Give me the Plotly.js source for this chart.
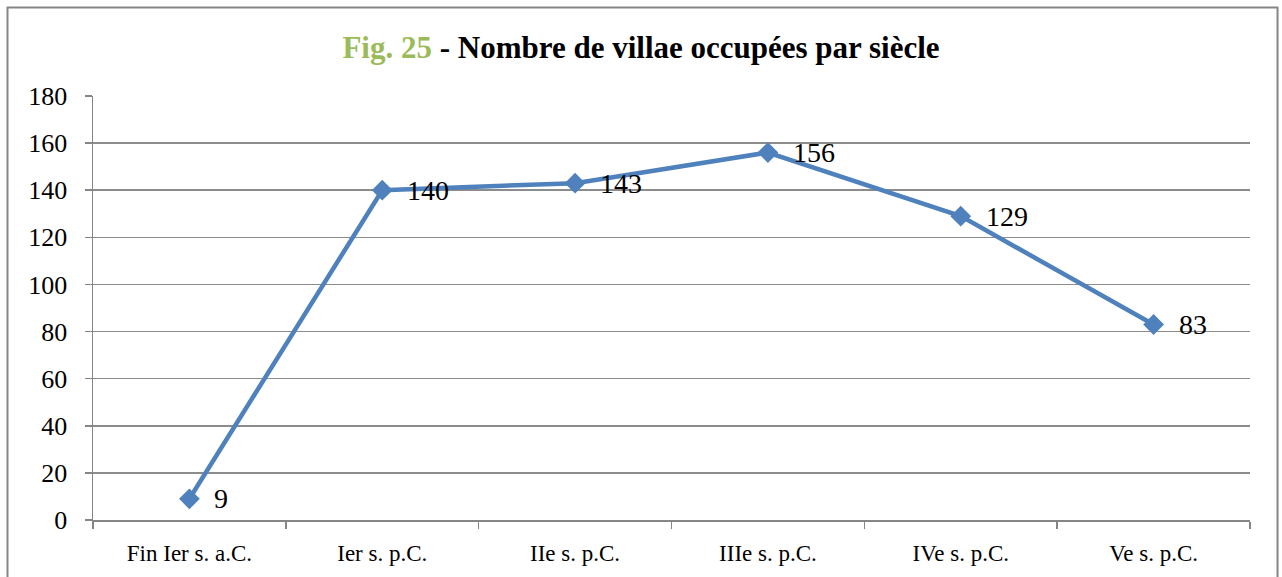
<!DOCTYPE html>
<html><head><meta charset="utf-8">
<script src="https://cdn.plot.ly/plotly-3.0.1.min.js"></script>
<style>body{margin:0;background:#fff}#c{width:1282px;height:577px}</style>
</head><body><div id="c"></div>
<script>
const categories = ["Fin Ier s. a.C.", "Ier s. p.C.", "IIe s. p.C.", "IIIe s. p.C.", "IVe s. p.C.", "Ve s. p.C."];
const villae = [9, 140, 143, 156, 129, 83];
const yTicks = [0, 20, 40, 60, 80, 100, 120, 140, 160, 180];

const FONT = "Liberation Serif, Times New Roman, serif";
const trace = {
  x: categories, y: villae, type: "scatter", mode: "lines+markers",
  line: {color: "#4F81BD", width: 4.5},
  marker: {symbol: "diamond", size: 16, color: "#4F81BD"},
  cliponaxis: false, hoverinfo: "none"
};
const labels = categories.map((c, i) => ({
  x: c, y: villae[i], xref: "x", yref: "y", text: String(villae[i]),
  showarrow: false, xanchor: "left", yanchor: "middle", xshift: 23, yshift: 0,
  font: {family: FONT, size: 28, color: "#000"}
}));
const layout = {
  width: 1282, height: 577,
  margin: {l: 93, r: 32, t: 96, b: 57},
  paper_bgcolor: "#fff", plot_bgcolor: "#fff",
  showlegend: false,
  title: {text: '<span style="color:#9BBB59">Fig. 25</span> - Nombre de villae occupées par siècle',
          font: {family: FONT, size: 31, color: "#000", weight: "bold"},
          x: 0.5, xanchor: "center", y: 0.918, yanchor: "middle"},
  xaxis: {type: "category", range: [-0.5, 5.5], showgrid: false, showline: true, linecolor: "#868686", linewidth: 1.5,
          ticks: "outside", tickson: "boundaries", ticklen: 7, tickcolor: "#868686", tickwidth: 1.5,
          tickfont: {family: FONT, size: 23, color: "#000"}, ticklabelstandoff: 12, zeroline: false, fixedrange: true},
  yaxis: {range: [0, 180], tickvals: yTicks, ticktext: yTicks.map(String), showgrid: true, gridcolor: "#8c8c8c", gridwidth: 1.5,
          showline: true, linecolor: "#868686", linewidth: 1.5, ticks: "outside", ticklen: 7, tickcolor: "#868686", tickwidth: 1.5,
          tickfont: {family: FONT, size: 26, color: "#000"}, ticklabelstandoff: 12, zeroline: false, fixedrange: true},
  annotations: labels,
  shapes: [{type: "rect", xref: "paper", yref: "paper", x0: -0.0739, x1: 1.0238, y0: -0.2, y1: 1.2087,
            line: {color: "#868686", width: 2}, fillcolor: "rgba(0,0,0,0)", layer: "below"}]
};
Plotly.newPlot("c", [trace], layout, {staticPlot: true});
</script></body></html>
